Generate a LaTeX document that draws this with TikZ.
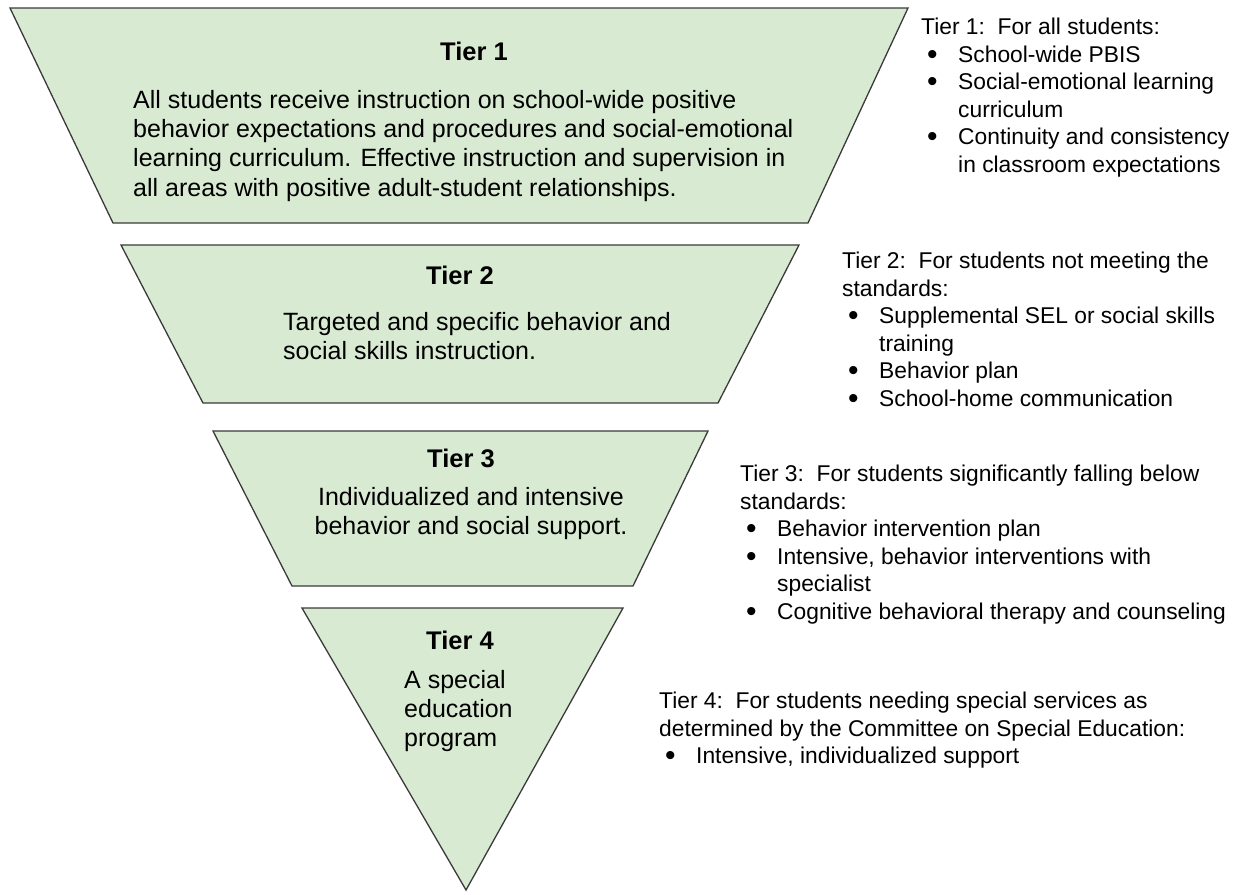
\documentclass[tikz,border=0pt]{standalone}
\usepackage{fontspec}
\setmainfont{Liberation Sans}
\definecolor{tierfill}{HTML}{D9EAD3}
\definecolor{tierline}{HTML}{3A3A3A}
\tikzset{
  tier/.style={draw=tierline, fill=tierfill, line width=1.3pt},
  tiertitle/.style={anchor=base, inner sep=0pt, font=\fontsize{25.5}{30}\selectfont\bfseries},
  tierbody/.style={anchor=north west, inner sep=0pt, align=left, font=\fontsize{25}{29.3}\selectfont},
  note/.style={anchor=north west, inner sep=0pt, align=left, font=\fontsize{22.8}{27.5}\selectfont}
}
\newcommand{\bul}{\makebox[37pt][l]{\hspace{6pt}\raisebox{-2pt}{\fontsize{30}{27.5}\selectfont\textbullet}}}
\newcommand{\cont}{\hspace*{37pt}}
\begin{document}
\begin{tikzpicture}[x=1pt,y=-1pt]
      \useasboundingbox (0,0) rectangle (1238,894);
      % the four tiers
      \draw[tier] (10,8) -- (908,8) -- (808,223) -- (113,223) -- cycle;
      \draw[tier] (121,245) -- (799,245) -- (718,403) -- (203,403) -- cycle;
      \draw[tier] (213,431) -- (708,431) -- (633,586) -- (292,586) -- cycle;
      \draw[tier] (302,608) -- (623,608) -- (466,890) -- cycle;
      % texts inside the tiers
      \node[tiertitle] (t1) at (474,60) {Tier 1};
      \node[tierbody] (b1) at (133,90) {All students receive instruction on school-wide positive\\
        behavior expectations and procedures and social-emotional\\
        learning curriculum. Effective instruction and supervision in\\
        all areas with positive adult-student relationships.};
      \node[tiertitle] (t2) at (460,284) {Tier 2};
      \node[tierbody] (b2) at (283,312) {Targeted and specific behavior and\\
        social skills instruction.};
      \node[tiertitle] (t3) at (461,467) {Tier 3};
      \node[tierbody, anchor=north, align=center] (b3) at (471,487) {Individualized and intensive\\
        behavior and social support.};
      \node[tiertitle] (t4) at (460,649) {Tier 4};
      \node[tierbody] (b4) at (404,670) {A special\\ education\\ program};
      % notes on the right
      \node[note] (n1) at (921,18) {Tier 1:\ \ For all students:\\
        \bul School-wide PBIS\\
        \bul Social-emotional learning\\
        \cont curriculum\\
        \bul Continuity and consistency\\
        \cont in classroom expectations};
      \node[note] (n2) at (842,252) {Tier 2:\ \ For students not meeting the\\
        standards:\\
        \bul Supplemental SEL or social skills\\
        \cont training\\
        \bul Behavior plan\\
        \bul School-home communication};
      \node[note] (n3) at (740,465) {Tier 3:\ \ For students significantly falling below\\
        standards:\\
        \bul Behavior intervention plan\\
        \bul Intensive, behavior interventions with\\
        \cont specialist\\
        \bul Cognitive behavioral therapy and counseling};
      \node[note] (n4) at (659,692) {Tier 4:\ \ For students needing special services as\\
        determined by the Committee on Special Education:\\
        \bul Intensive, individualized support};
    \end{tikzpicture}
\end{document}
